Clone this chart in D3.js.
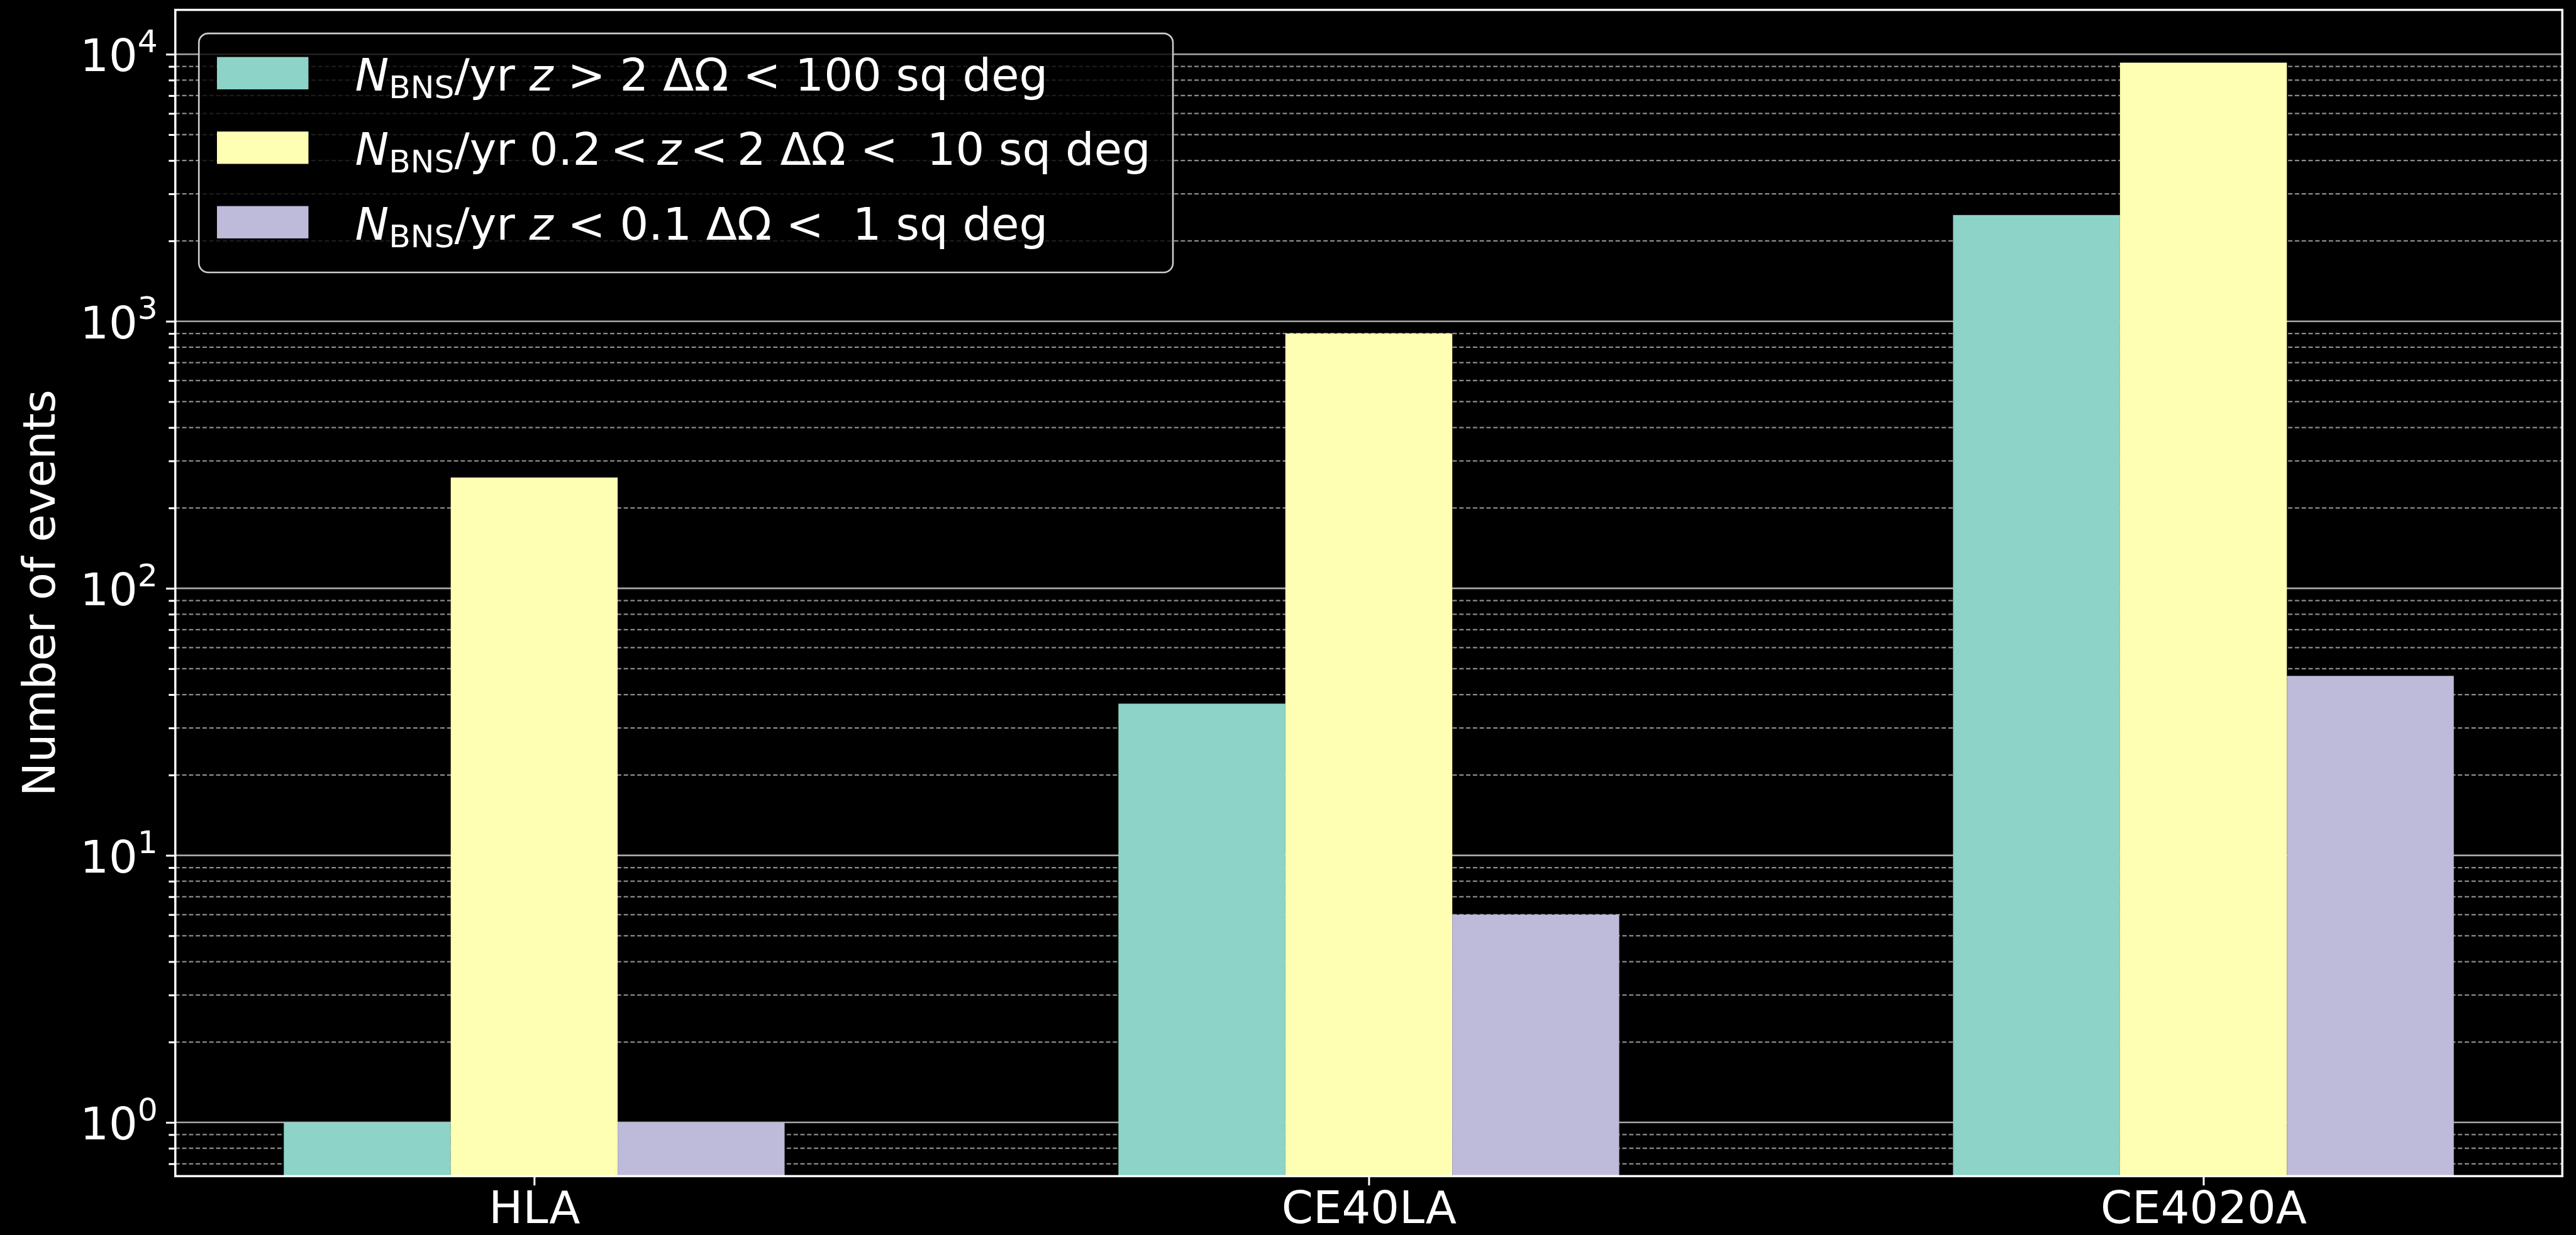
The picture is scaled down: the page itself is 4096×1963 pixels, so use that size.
<!DOCTYPE html>
<html>
<head>
<meta charset="utf-8">
<script src="https://cdn.jsdelivr.net/npm/d3@7"></script>
<style>
  html, body { margin: 0; padding: 0; background: #000; }
  svg { display: block; }
  text { font-family: "DejaVu Sans", sans-serif; fill: #fff; white-space: pre; }
</style>
</head>
<body>
<script>
// Detectors and BNS event counts per year in each localisation class
const categories = ["HLA", "CE40LA", "CE4020A"];
const highZ = [1, 37, 2500];     // z > 2, ΔΩ < 100 sq deg
const midZ  = [260, 900, 9300];  // 0.2 < z < 2, ΔΩ < 10 sq deg
const lowZ  = [1, 6, 47];        // z < 0.1, ΔΩ < 1 sq deg
const seriesColors = ["#8dd3c7", "#ffffb3", "#bebada"];
const yMajorTicks = [1, 10, 100, 1000, 10000];
const yTickExponents = ["0", "1", "2", "3", "4"];

const S = 4096 / 4702;
const M = { left: 320, right: 4677, top: 18, bottom: 2146 };
const FS = 82.6;

const svg = d3.select("body").append("svg")
  .attr("width", 4096).attr("height", 1963);
svg.append("rect").attr("width", 4096).attr("height", 1963).attr("fill", "#000");
const g = svg.append("g").attr("transform", `scale(${S})`);

const x = d3.scaleLinear().domain([-0.43, 2.43]).range([M.left, M.right]);
const y = d3.scaleLog().domain([Math.pow(10, -0.2011), Math.pow(10, 4.1662)])
  .range([M.bottom, M.top]);

// minor ticks: 2..9 per decade inside the domain
const [y0, y1] = y.domain();
const yMinor = [];
for (let e = -1; e <= 4; e++) {
  for (let k = 2; k <= 9; k++) {
    const v = k * Math.pow(10, e);
    if (v >= y0 && v <= y1) yMinor.push(v);
  }
}

// grid
const grid = g.append("g");
grid.selectAll("line.minor").data(yMinor).join("line")
  .attr("x1", M.left).attr("x2", M.right)
  .attr("y1", d => y(d)).attr("y2", d => y(d))
  .attr("stroke", "#8c8c8c").attr("stroke-width", 2.6)
  .attr("stroke-dasharray", "8,4.4");
grid.selectAll("line.major").data(yMajorTicks).join("line")
  .attr("x1", M.left).attr("x2", M.right)
  .attr("y1", d => y(d)).attr("y2", d => y(d))
  .attr("stroke", "#a8a8a8").attr("stroke-width", 3);

// bars
const series = [highZ, midZ, lowZ];
const barW = 0.2;
const offsets = [-0.2, 0, 0.2];
series.forEach((vals, si) => {
  g.append("g").selectAll("rect").data(vals).join("rect")
    .attr("x", (d, i) => x(i + offsets[si] - barW / 2))
    .attr("width", (d, i) => x(i + offsets[si] + barW / 2) - x(i + offsets[si] - barW / 2))
    .attr("y", d => y(d))
    .attr("height", d => M.bottom - y(d))
    .attr("fill", seriesColors[si]);
});

// y axis: major and minor ticks
const yAxisMajor = d3.axisLeft(y).tickValues(yMajorTicks).tickSize(17).tickFormat("");
const yAxisMinor = d3.axisLeft(y).tickValues(yMinor).tickSize(12).tickFormat("");
const gyMinor = g.append("g").attr("transform", `translate(${M.left},0)`).call(yAxisMinor);
const gyMajor = g.append("g").attr("transform", `translate(${M.left},0)`).call(yAxisMajor);
[gyMinor, gyMajor].forEach(a => {
  a.select(".domain").remove();
  a.selectAll("line").attr("stroke", "#fff").attr("stroke-width", 3.5);
});
// y tick labels as powers of ten
const yLab = g.append("g");
yMajorTicks.forEach((v, i) => {
  const t = yLab.append("text")
    .attr("x", 288).attr("y", y(v) + 31)
    .attr("text-anchor", "end").attr("font-size", FS);
  t.append("tspan").text("10");
  t.append("tspan").attr("font-size", FS * 0.7).attr("dy", -35).text(yTickExponents[i]);
});

// x axis
const xAxis = d3.axisBottom(x).tickValues([0, 1, 2]).tickSize(17)
  .tickFormat(i => categories[i]).tickPadding(0);
const gx = g.append("g").attr("transform", `translate(0,${M.bottom})`).call(xAxis);
gx.select(".domain").remove();
gx.selectAll("line").attr("stroke", "#fff").attr("stroke-width", 3.5);
gx.selectAll("text").attr("fill", "#fff").attr("font-size", FS)
  .attr("font-family", "DejaVu Sans").attr("dy", null).attr("y", 86);

// spines
g.append("rect")
  .attr("x", M.left).attr("y", M.top)
  .attr("width", M.right - M.left).attr("height", M.bottom - M.top)
  .attr("fill", "none").attr("stroke", "#fff").attr("stroke-width", 4);

// y label
g.append("text")
  .attr("transform", `translate(100,${(M.top + M.bottom) / 2}) rotate(-90)`)
  .attr("text-anchor", "middle").attr("font-size", FS)
  .text("Number of events");

// legend
const legendRows = [
  [["N", "it"], ["BNS", "sub"], ["/yr ", ""], ["z", "it"], [" > 2 ΔΩ < 100 sq deg", ""]],
  [["N", "it"], ["BNS", "sub"], ["/yr 0.2\u2009<\u2009", ""], ["z", "it"], ["\u2009<\u20092 ΔΩ <  10 sq deg", ""]],
  [["N", "it"], ["BNS", "sub"], ["/yr ", ""], ["z", "it"], [" < 0.1 ΔΩ <  1 sq deg", ""]]
];
const lg = g.append("g");
lg.append("rect")
  .attr("x", 363).attr("y", 61).attr("width", 1778).attr("height", 436)
  .attr("rx", 17).attr("ry", 17)
  .attr("fill", "#000").attr("fill-opacity", 0.8)
  .attr("stroke", "#cccccc").attr("stroke-width", 3);
legendRows.forEach((row, r) => {
  const base = 165 + 136 * r;
  lg.append("rect")
    .attr("x", 396).attr("y", base - 61).attr("width", 167).attr("height", 59)
    .attr("fill", seriesColors[r]);
  const t = lg.append("text").attr("x", 648).attr("y", base).attr("font-size", FS);
  let shifted = 0;
  row.forEach(([s, kind]) => {
    const sp = t.append("tspan").text(s);
    if (kind === "it") sp.attr("font-style", "italic");
    if (kind === "sub") {
      sp.attr("font-size", FS * 0.7).attr("dy", 14);
      shifted = 14;
    } else if (shifted) {
      sp.attr("dy", -shifted);
      shifted = 0;
    }
  });
});
</script>
</body>
</html>
